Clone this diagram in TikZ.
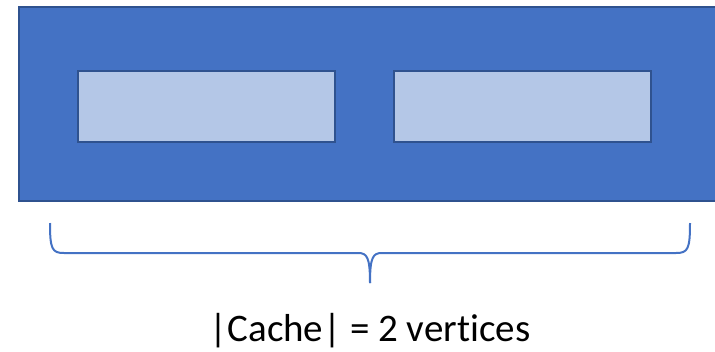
\documentclass[tikz,border=0pt]{standalone}
\usepackage{fontspec}
\setmainfont{Carlito}[Ligatures=NoCommon]
\usepackage{xcolor}
\usepackage{tikz}
\definecolor{pptblue}{HTML}{4472C4}
\definecolor{pptedge}{HTML}{2F528F}
\definecolor{pptlight}{HTML}{B4C7E7}
\tikzstyle{block} = [draw=pptedge, line width=2pt, fill=pptblue, inner sep=0pt, minimum width=700pt, minimum height=194pt]
\tikzstyle{slot} = [draw=pptedge, line width=2pt, fill=pptlight, inner sep=0pt, minimum width=257pt, minimum height=71pt]
\tikzstyle{brace} = [draw=pptblue, line width=2pt]

\begin{document}
\begin{tikzpicture}[x=1pt, y=1pt]
		\useasboundingbox (0,0) rectangle (715,-351);
		\node (cache) [block, anchor=north west] at (18,-6) {};
		\node (slotA) [slot, anchor=north west] at (77,-70) {};
		\node (slotB) [slot, right of=slotA, node distance=316pt] {};
		\node (label) [anchor=base, font=\fontsize{39}{46}\selectfont] at (370,-341) {|Cache| = 2 vertices};
		\coordinate (bl) at (50,-223);
		\coordinate (br) at (690,-223);
		\coordinate (tip) at (370,-283);
		
		\draw [brace] (bl) .. controls (50,-249) and (52,-253) .. (64,-253) -- (358,-253)
			.. controls (367,-253) and (370,-257) .. (tip);
		\draw [brace] (br) .. controls (690,-249) and (688,-253) .. (676,-253) -- (382,-253)
			.. controls (373,-253) and (370,-257) .. (tip);
	\end{tikzpicture}
\end{document}
